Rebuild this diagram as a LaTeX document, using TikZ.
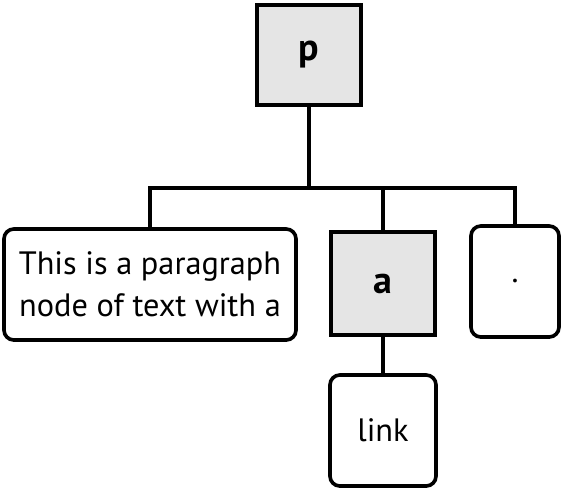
\documentclass[tikz,border=0pt]{standalone}
\usepackage{fontspec}
\setmainfont{PT Sans}

\tikzset{
    tag/.style = {draw, line width=2.6pt, fill=black!10, font=\fontsize{27}{32}\selectfont\bfseries,
                  inner sep=0pt},
    leaf/.style = {draw, line width=2.6pt, rounded corners=7pt, font=\fontsize{23}{30}\selectfont,
                   align=center, inner sep=0pt},
    branch/.style = {line width=2.6pt}
}

\begin{document}
\begin{tikzpicture}
    \useasboundingbox (0,0) rectangle (14.075,-12.225);

    \node[tag, minimum width=2.6cm, minimum height=2.5cm] (p) at (7.725,-1.375) {p};
    \node[leaf, minimum width=7.3cm, minimum height=2.775cm] (para) at (3.75,-7.1125)
        {This is a paragraph\\node of text with a};
    \node[tag, minimum width=2.6cm, minimum height=2.575cm] (a) at (9.575,-7.0875) {a};
    \node[leaf, minimum width=2.2cm, minimum height=2.775cm] (dot) at (12.875,-7.0375) {.};
    \node[leaf, minimum width=2.65cm, minimum height=2.775cm] (link) at (9.575,-10.7625) {link};

    \coordinate (bar) at (7.725,-4.7);
    \draw[branch] (p) -- (bar);
    \draw[branch] (para.north) |- (bar) -| (dot.north);
    \draw[branch] (a.north) -- (a.north |- bar);
    \draw[branch] (a) -- (link);
\end{tikzpicture}
\end{document}
